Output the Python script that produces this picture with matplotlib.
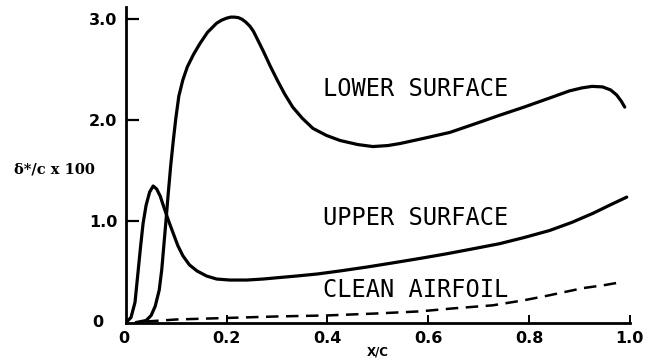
import matplotlib
matplotlib.use("Agg")
import matplotlib.pyplot as plt

# displacement thickness distributions, delta*/c x 100 against x/c
lower_x = [0.02, 0.04, 0.05, 0.058, 0.066, 0.071, 0.075, 0.079, 0.084, 0.089,
           0.094, 0.099, 0.105, 0.113, 0.122, 0.134, 0.147, 0.162, 0.172, 0.18,
           0.19, 0.2, 0.208, 0.215, 0.223, 0.23, 0.238, 0.246, 0.253, 0.26,
           0.272, 0.286, 0.3, 0.315, 0.331, 0.35, 0.371, 0.398, 0.425, 0.46,
           0.49, 0.52, 0.544, 0.59, 0.643, 0.69, 0.742, 0.79, 0.841, 0.88,
           0.905, 0.925, 0.946, 0.962, 0.974, 0.983, 0.99]
lower_y = [0.0, 0.02, 0.07, 0.16, 0.32, 0.52, 0.75, 0.98, 1.28, 1.56,
           1.80, 2.02, 2.24, 2.40, 2.53, 2.65, 2.76, 2.87, 2.92, 2.96,
           2.99, 3.01, 3.02, 3.02, 3.015, 3.0, 2.97, 2.93, 2.88, 2.81,
           2.69, 2.54, 2.40, 2.26, 2.13, 2.02, 1.92, 1.85, 1.80, 1.76,
           1.74, 1.75, 1.77, 1.82, 1.88, 1.96, 2.05, 2.13, 2.22, 2.29,
           2.32, 2.335, 2.33, 2.30, 2.25, 2.19, 2.13]

upper_x = [0.0, 0.01, 0.018, 0.024, 0.029, 0.034, 0.04, 0.047, 0.054, 0.061,
           0.068, 0.076, 0.085, 0.094, 0.103, 0.113, 0.126, 0.141, 0.16, 0.18,
           0.206, 0.24, 0.272, 0.305, 0.339, 0.38, 0.425, 0.48, 0.53, 0.585,
           0.637, 0.69, 0.742, 0.79, 0.841, 0.885, 0.927, 0.96, 0.994]
upper_y = [0.0, 0.05, 0.20, 0.50, 0.75, 0.98, 1.16, 1.29, 1.35, 1.32,
           1.25, 1.13, 1.0, 0.88, 0.76, 0.66, 0.57, 0.51, 0.46, 0.43,
           0.42, 0.42, 0.43, 0.445, 0.46, 0.48, 0.51, 0.55, 0.59, 0.635,
           0.68, 0.73, 0.78, 0.84, 0.91, 0.99, 1.08, 1.16, 1.24]

clean_x = [0.04, 0.1, 0.2, 0.3, 0.4, 0.5, 0.583, 0.65, 0.728, 0.79, 0.841,
           0.907, 0.95, 0.984]
clean_y = [0.01, 0.03, 0.045, 0.06, 0.07, 0.09, 0.11, 0.14, 0.17, 0.22, 0.27,
           0.34, 0.37, 0.40]

x_ticks = [0.2, 0.4, 0.6, 0.8, 1.0]
x_labels = ["0.2", "0.4", "0.6", "0.8", "1.0"]
y_ticks = [1.0, 2.0, 3.0]
y_labels = ["1.0", "2.0", "3.0"]

fig = plt.figure(figsize=(6.56, 3.61), dpi=100)
ax = fig.add_axes([0.192, 0.1066, 0.768, 0.874])

ax.plot(lower_x, lower_y, color="black", lw=2.3, solid_capstyle="round",
        solid_joinstyle="round")
ax.plot(upper_x, upper_y, color="black", lw=2.3, solid_capstyle="round",
        solid_joinstyle="round")
ax.plot(clean_x, clean_y, color="black", lw=1.8, dashes=(5, 3))

ax.set_xlim(0, 1.0)
ax.set_ylim(0, 3.12)

for side in ["top", "right"]:
    ax.spines[side].set_visible(False)
for side in ["left", "bottom"]:
    ax.spines[side].set_linewidth(2.0)

ax.set_xticks(x_ticks, x_labels, fontsize=11.5, fontweight="bold")
ax.set_yticks(y_ticks, y_labels, fontsize=11.5, fontweight="bold")
ax.tick_params(axis="x", direction="in", length=6, width=1.4, pad=6)
ax.tick_params(axis="y", direction="in", length=9, width=1.6, pad=6)

# origin labels sit apart from the others
ax.text(-0.005, -0.027, "0", ha="center", va="top", fontsize=11.5,
        fontweight="bold", transform=ax.transAxes)
ax.text(-0.045, 0.0, "0", ha="right", va="center", fontsize=11.5,
        fontweight="bold", transform=ax.transAxes)

ax.text(0.5, -0.074, "X/C", ha="center", va="top", fontsize=8.5,
        fontweight="bold", transform=ax.transAxes)
fig.text(54 / 656, 1 - 170 / 361, "δ*/c x 100", ha="center", va="center",
         fontsize=10.5, fontweight="bold", family="DejaVu Serif")

label_font = dict(family="DejaVu Sans Mono", fontsize=17, color="black",
                  ha="left", va="center")
ax.text(0.392, 2.31, "LOWER SURFACE", **label_font)
ax.text(0.392, 1.03, "UPPER SURFACE", **label_font)
ax.text(0.392, 0.32, "CLEAN AIRFOIL", **label_font)

fig.savefig("out.png", dpi=100)
